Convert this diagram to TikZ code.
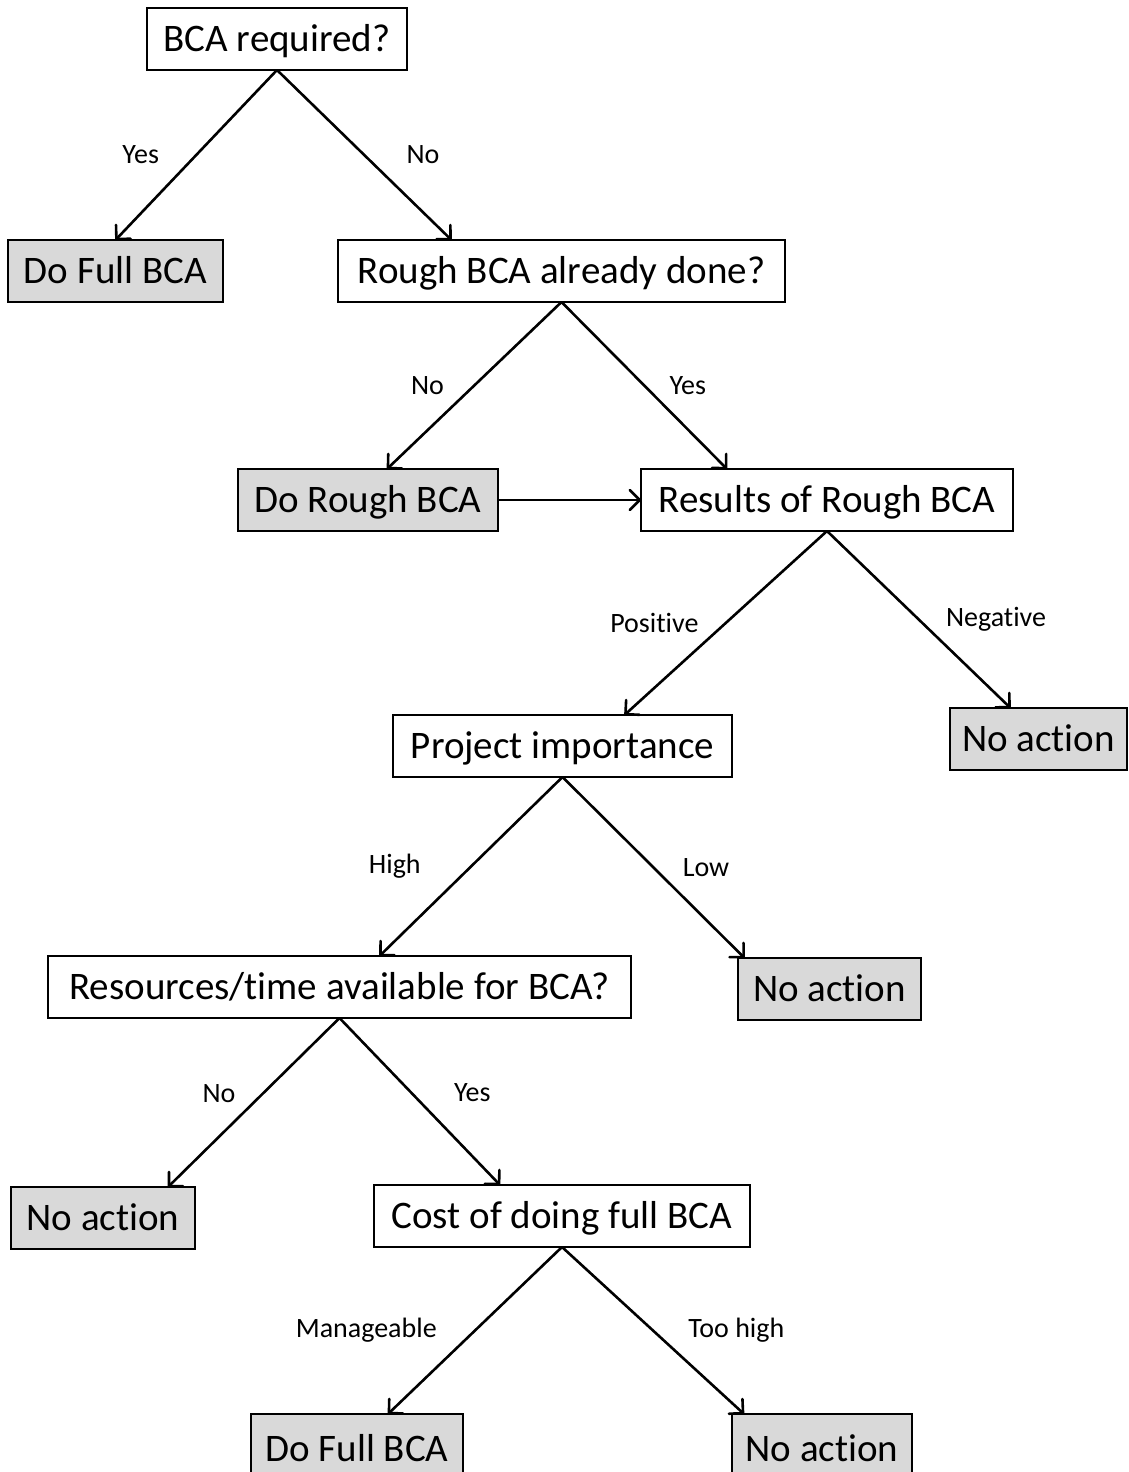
\documentclass[tikz,border=0pt]{standalone}
\usepackage{fontspec}
\setmainfont{Carlito}[Ligatures=NoCommon]
\usetikzlibrary{arrows.meta, positioning}

\begin{document}
\begin{tikzpicture}[
    decision/.style={
        rectangle, draw=black, line width=2.8pt, fill=white,
        minimum height=62pt, inner xsep=0pt, inner ysep=0pt, outer sep=0pt,
        text height=32pt, text depth=7pt,
        font=\fontsize{39pt}{47pt}\selectfont
    },
    outcome/.style={decision, fill=black!15},
    arrow/.style={line width=2.6pt, -{Straight Barb[length=10pt,width=20pt,round]}},
    lbl/.style={font=\fontsize{28pt}{34pt}\selectfont, inner sep=0pt}
]
\useasboundingbox (0,0) rectangle (1129pt,-1472pt);

\node[decision, minimum width=260pt] (req) at (277pt,-39pt) {BCA required?};
\node[outcome, minimum width=215pt, below=170pt of req, xshift=-161.5pt] (full1) {Do Full BCA};
\node[decision, minimum width=447pt, below=170pt of req, xshift=284.5pt] (rough) {Rough BCA already done?};
\node[outcome, minimum width=260pt, below=167pt of rough, xshift=-193.5pt] (dorough) {Do Rough BCA};
\node[decision, minimum width=372pt, right=143pt of dorough] (results) {Results of Rough BCA};
\node[decision, minimum width=339pt, below=184pt of results, xshift=-264.5pt] (proj) {Project importance};
\node[outcome, minimum width=177pt, below=177pt of results, xshift=211.5pt] (none1) {No action};
\node[decision, minimum width=583pt, below=179pt of proj, xshift=-223pt] (res) {Resources/time available for BCA?};
\node[outcome, minimum width=183pt, below=181pt of proj, xshift=267pt] (none2) {No action};
\node[outcome, minimum width=184pt, below=169pt of res, xshift=-236.5pt] (none3) {No action};
\node[decision, minimum width=376pt, below=167pt of res, xshift=222.5pt] (cost) {Cost of doing full BCA};
% the last row runs off the bottom edge
\node[outcome, minimum width=212pt, minimum height=70pt, below=167pt of cost, xshift=-205pt] (full2) {Do Full BCA};
\node[outcome, minimum width=180pt, minimum height=70pt, below=167pt of cost, xshift=260pt] (none4) {No action};

\draw[arrow] (req.south) -- node[lbl, left=36pt] {Yes} (full1.north);
\draw[arrow] (req.south) -- node[lbl, right=41pt] {No} ([xshift=-110pt]rough.north);
\draw[arrow] (rough.south) -- node[lbl, left=29pt] {No} ([xshift=19pt]dorough.north);
\draw[arrow] (rough.south) -- node[lbl, right=24pt] {Yes} ([xshift=-100pt]results.north);
\draw[arrow] (dorough.east) -- (results.west);
\draw[arrow] (results.south) -- node[lbl, left=26pt] {Positive} ([xshift=62pt]proj.north);
\draw[arrow] (results.south) -- node[lbl, right=26pt] {Negative} ([xshift=-28pt]none1.north);
\draw[arrow] (proj.south) -- node[lbl, left=49pt] {High} ([xshift=40pt]res.north);
\draw[arrow] (proj.south) -- node[lbl, right=28pt] {Low} ([xshift=-85pt]none2.north);
\draw[arrow] (res.south) -- node[lbl, left=17pt, yshift=9pt] {No} ([xshift=65pt]none3.north);
\draw[arrow] (res.south) -- node[lbl, right=33pt, yshift=9pt] {Yes} ([xshift=-62pt]cost.north);
\draw[arrow] (cost.south) -- node[lbl, left=37pt] {Manageable} ([xshift=31pt]full2.north);
\draw[arrow] (cost.south) -- node[lbl, right=34pt] {Too high} ([xshift=-78pt]none4.north);
\end{tikzpicture}
\end{document}
